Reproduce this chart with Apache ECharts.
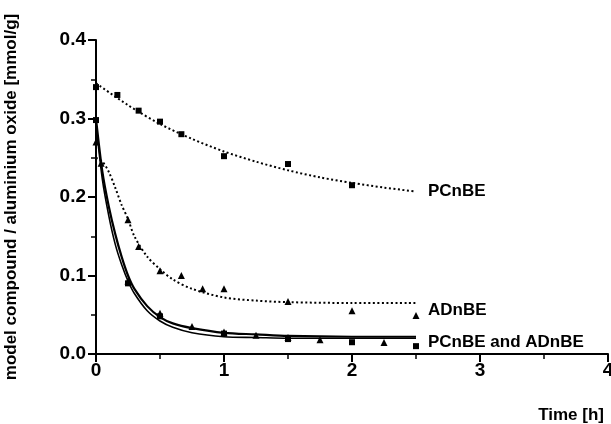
<!DOCTYPE html>
<html>
<head>
<meta charset="utf-8">
<script src="https://cdn.jsdelivr.net/npm/echarts@6/dist/echarts.min.js"></script>
<style>
  html, body { margin: 0; padding: 0; background: #fff; }
  #chart { width: 611px; height: 424px; }
</style>
</head>
<body>
<div id="chart"></div>
<script>
// PCnBE alone: measured points and fitted curve
const pcnbeTime = [0, 0.167, 0.333, 0.5, 0.667, 1, 1.5, 2];
const pcnbeValue = [0.340, 0.330, 0.310, 0.296, 0.280, 0.252, 0.242, 0.215];
const pcnbeFitTime = [0, 0.25, 0.5, 0.75, 1, 1.25, 1.5, 1.75, 2, 2.25, 2.5];
const pcnbeFitValue = [0.345, 0.317, 0.293, 0.274, 0.258, 0.245, 0.234, 0.225, 0.218, 0.212, 0.207];

// ADnBE alone: measured points and fitted curve
const adnbeTime = [0.04, 0.25, 0.333, 0.5, 0.667, 0.833, 1, 1.5, 2, 2.5];
const adnbeValue = [0.243, 0.171, 0.137, 0.106, 0.100, 0.083, 0.083, 0.067, 0.055, 0.049];
const adnbeFitTime = [0, 0.05, 0.1, 0.15, 0.2, 0.25, 0.3, 0.4, 0.5, 0.6, 0.75, 1, 1.25, 1.5, 2, 2.5];
const adnbeFitValue = [0.250, 0.245, 0.232, 0.212, 0.190, 0.172, 0.150, 0.124, 0.108, 0.095, 0.083, 0.072, 0.068, 0.066, 0.065, 0.065];

// PCnBE and ADnBE together: PCnBE (squares) and ADnBE (triangles)
const mixPcTime = [0, 0.25, 0.5, 1, 1.5, 2, 2.5];
const mixPcValue = [0.298, 0.090, 0.048, 0.026, 0.019, 0.015, 0.010];
const mixAdTime = [0, 0.25, 0.5, 0.75, 1, 1.25, 1.5, 1.75, 2.25];
const mixAdValue = [0.270, 0.093, 0.052, 0.035, 0.028, 0.024, 0.021, 0.018, 0.0145];
const mixFitTime = [0, 0.05, 0.1, 0.15, 0.2, 0.25, 0.3, 0.4, 0.5, 0.6, 0.75, 1, 1.25, 1.5, 2, 2.5];
const mixFitUpper = [0.300, 0.232, 0.188, 0.153, 0.124, 0.100, 0.083, 0.061, 0.047, 0.039, 0.033, 0.027, 0.025, 0.023, 0.022, 0.022];
const mixFitLower = [0.294, 0.222, 0.176, 0.140, 0.114, 0.093, 0.077, 0.055, 0.042, 0.034, 0.027, 0.022, 0.021, 0.020, 0.020, 0.020];

const xTicks = [0, 1, 2, 3, 4];
const yTicks = [0.0, 0.1, 0.2, 0.3, 0.4];

const zip = (xs, ys) => xs.map((x, i) => [x, ys[i]]);
const FONT = '"Liberation Sans", Arial, sans-serif';
const textStyle = { fontFamily: FONT, fontWeight: 'bold', fontSize: 17, color: '#000' };
const tickFont = { fontFamily: FONT, fontWeight: 'bold', fontSize: 19, color: '#000' };

function scatter(xs, ys, symbol, size) {
  return {
    type: 'scatter', data: zip(xs, ys), symbol: symbol, symbolSize: size,
    itemStyle: { color: '#000', opacity: 1 }, silent: true, z: 3
  };
}
function fit(xs, ys, lineType, width, label, offset) {
  const s = {
    type: 'line', data: zip(xs, ys), showSymbol: false, smooth: 0.3,
    lineStyle: { color: '#000', width: width, type: lineType }, silent: true, z: 2
  };
  if (label) {
    s.endLabel = Object.assign({ show: true, formatter: label, distance: 12, offset: offset || [0, 0] }, textStyle);
  }
  return s;
}

const chart = echarts.init(document.getElementById('chart'), null, { renderer: 'canvas' });
chart.setOption({
  animation: false,
  backgroundColor: '#fff',
  grid: { left: 96, right: 3, top: 40, bottom: 70, containLabel: false, outerBoundsMode: 'none' },
  xAxis: {
    type: 'value', min: xTicks[0], max: xTicks[xTicks.length - 1], interval: 1,
    name: 'Time [h]', nameLocation: 'end', nameGap: 0,
    nameTextStyle: Object.assign({ align: 'right', verticalAlign: 'top', padding: [53, 4, 0, 0] }, textStyle),
    axisLine: { onZero: false, lineStyle: { color: '#000', width: 2 } },
    axisTick: { show: true, inside: false, length: 8, lineStyle: { color: '#000', width: 2 } },
    minorTick: { show: true, splitNumber: 2, length: 5, lineStyle: { color: '#000', width: 1.5 } },
    axisLabel: Object.assign({ margin: 7, formatter: v => String(v) }, tickFont),
    splitLine: { show: false }
  },
  yAxis: {
    type: 'value', min: yTicks[0], max: yTicks[yTicks.length - 1], interval: 0.1,
    name: 'model compound / aluminium oxide [mmol/g]', nameLocation: 'middle', nameGap: 76, nameRotate: 90,
    nameTextStyle: textStyle,
    axisLine: { onZero: false, lineStyle: { color: '#000', width: 2 } },
    axisTick: { show: true, inside: false, length: 8, lineStyle: { color: '#000', width: 2 } },
    minorTick: { show: true, splitNumber: 2, length: 5, lineStyle: { color: '#000', width: 1.5 } },
    axisLabel: Object.assign({ margin: 10, formatter: v => v.toFixed(1) }, tickFont),
    splitLine: { show: false }
  },
  series: [
    fit(pcnbeFitTime, pcnbeFitValue, [2, 2.5], 2, 'PCnBE', [0, 0]),
    fit(adnbeFitTime, adnbeFitValue, [2, 2.5], 2, 'ADnBE', [0, 7]),
    fit(mixFitTime, mixFitUpper, 'solid', 2.2, null),
    fit(mixFitTime, mixFitLower, 'solid', 1.6, 'PCnBE and ADnBE', [0, 4]),
    scatter(pcnbeTime, pcnbeValue, 'rect', 6),
    scatter(adnbeTime, adnbeValue, 'triangle', 7),
    scatter(mixPcTime, mixPcValue, 'rect', 6),
    scatter(mixAdTime, mixAdValue, 'triangle', 7)
  ]
});
</script>
</body>
</html>
